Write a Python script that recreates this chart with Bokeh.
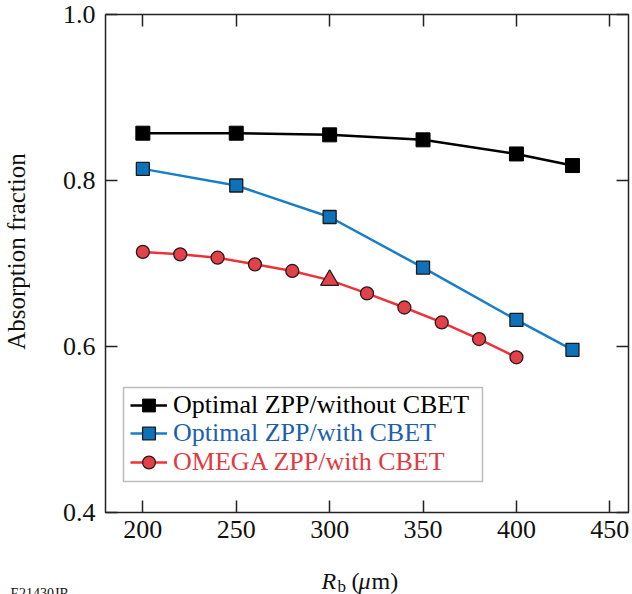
from bokeh.plotting import figure
from bokeh.layouts import row, column
from bokeh.models import (Range1d, LinearAxis, FixedTicker, Legend, LegendItem,
                          Label, BoxAnnotation, ColumnDataSource, CustomJSTickFormatter)
from bokeh.embed import file_html
from bokeh.resources import INLINE

# ---- data ----
x_opt = [200, 250, 300, 350, 400, 430]
y_no_cbet = [0.857, 0.857, 0.855, 0.849, 0.832, 0.818]
y_with_cbet = [0.814, 0.794, 0.756, 0.695, 0.632, 0.596]
x_omega = [200, 220, 240, 260, 280, 300, 320, 340, 360, 380, 400]
y_omega = [0.714, 0.711, 0.707, 0.699, 0.691, 0.680, 0.664, 0.647, 0.629, 0.609, 0.587]
omega_markers = ["circle"] * 5 + ["triangle"] + ["circle"] * 5
x_ticks = [200, 250, 300, 350, 400, 450]
y_ticks = [0.4, 0.6, 0.8, 1.0]
series_names = ["Optimal ZPP/without CBET", "Optimal ZPP/with CBET", "OMEGA ZPP/with CBET"]
y_title = "Absorption fraction"
figure_id = "E21430JR"

FONT = "Liberation Serif"
BLACK = "#000000"
BLUE_LINE = "#1A7DC8"
BLUE_FILL = "#0E72BA"
BLUE_TEXT = "#1D5FAE"
RED_LINE = "#EC3339"
RED_FILL = "#E2414A"
RED_TEXT = "#E23A43"
TXT = "#111111"

p = figure(frame_width=523, frame_height=498,
           x_range=Range1d(180, 460), y_range=Range1d(0.4, 1.0),
           output_backend="svg", toolbar_location=None,
           min_border_left=75, min_border_right=4,
           min_border_top=14, min_border_bottom=46)
p.xgrid.visible = False
p.ygrid.visible = False
p.outline_line_color = "#222222"
p.outline_line_width = 1.5
p.background_fill_color = "white"
p.border_fill_color = "white"

def style_axis(ax, ticks, show_labels):
    ax.ticker = FixedTicker(ticks=ticks)
    ax.major_tick_in = 12
    ax.major_tick_out = 0
    ax.minor_tick_in = 0
    ax.minor_tick_out = 0
    ax.major_tick_line_color = "#222222"
    ax.major_tick_line_width = 1.5
    ax.axis_line_color = None
    if show_labels:
        ax.major_label_text_font = FONT
        ax.major_label_text_font_size = "26px"
        ax.major_label_text_color = TXT
    else:
        ax.major_label_text_font_size = "0px"
        ax.major_label_standoff = 0

style_axis(p.xaxis[0], x_ticks, True)
style_axis(p.yaxis[0], y_ticks, True)
p.xaxis[0].major_label_standoff = 8
p.yaxis[0].major_label_standoff = 10
p.yaxis[0].formatter = CustomJSTickFormatter(code="return tick.toFixed(1);")

top_ax = LinearAxis()
right_ax = LinearAxis()
style_axis(top_ax, x_ticks, False)
style_axis(right_ax, y_ticks, False)
p.add_layout(top_ax, "above")
p.add_layout(right_ax, "right")

# ---- series ----
l1 = p.line(x_opt, y_no_cbet, line_color=BLACK, line_width=2.5)
s1 = p.scatter(x_opt, y_no_cbet, marker="square", size=14, fill_color=BLACK,
               line_color=BLACK, line_width=1)
l2 = p.line(x_opt, y_with_cbet, line_color=BLUE_LINE, line_width=2.5)
s2 = p.scatter(x_opt, y_with_cbet, marker="square", size=13, fill_color=BLUE_FILL,
               line_color="#1a1a1a", line_width=1.3)
l3 = p.line(x_omega, y_omega, line_color=RED_LINE, line_width=2.5)
src3 = ColumnDataSource(dict(x=x_omega, y=y_omega, m=omega_markers,
                             s=[18 if m == "triangle" else 13 for m in omega_markers]))
s3 = p.scatter("x", "y", marker="m", size="s", source=src3, fill_color=RED_FILL,
               line_color="#2a1a1a", line_width=1.3)

# ---- legend (one per row so each label has its own colour) ----
legend_box = BoxAnnotation(left=18, right=377, bottom=31, top=125,
                           left_units="screen", right_units="screen",
                           bottom_units="screen", top_units="screen",
                           fill_color="white", fill_alpha=1.0,
                           line_color="#222222", line_width=1.5)
p.add_layout(legend_box)

rows = [(series_names[0], [l1, s1], BLACK, 91),
        (series_names[1], [l2, s2], BLUE_TEXT, 63),
        (series_names[2], [l3, s3], RED_TEXT, 34)]
for name, rends, col, yoff in rows:
    lg = Legend(items=[LegendItem(label=name, renderers=rends)],
                location=(25, yoff), orientation="vertical",
                padding=0, margin=0, spacing=0,
                glyph_width=37, glyph_height=32, label_height=32,
                label_standoff=6,
                label_text_font=FONT, label_text_font_size="26px",
                label_text_color=col,
                border_line_alpha=0, background_fill_alpha=0)
    p.add_layout(lg, "center")

# ---- side strips holding the axis titles ----
def strip(w, h):
    f = figure(width=w, height=h, output_backend="svg", toolbar_location=None,
               x_axis_location=None, y_axis_location=None,
               min_border=0, min_border_left=0, min_border_right=0,
               min_border_top=0, min_border_bottom=0)
    f.xgrid.visible = False
    f.ygrid.visible = False
    f.outline_line_color = None
    f.background_fill_color = "white"
    f.border_fill_color = "white"
    return f

left = strip(30, 558)
# the strip's frame is aligned with the main frame (y from its bottom at 512 px)
left.add_layout(Label(x=16, y=261, x_units="screen", y_units="screen",
                      text=y_title, angle=1.5707963, angle_units="rad",
                      text_font=FONT, text_font_size="25px", text_color=TXT,
                      text_align="center", text_baseline="middle"))

bottom = strip(632, 36)
xl = [("R", "italic", "24px", 321, 14),
      ("b", "normal", "17px", 337, 8),
      ("(", "normal", "24px", 351, 14),
      ("\u03bc", "italic", "24px", 358, 14),
      ("m)", "normal", "24px", 371, 14)]
for t, st, fs, xx, yy in xl:
    bottom.add_layout(Label(x=xx, y=yy, x_units="screen", y_units="screen", text=t,
                            text_font=FONT, text_font_style=st, text_font_size=fs,
                            text_color=TXT, text_baseline="alphabetic"))
bottom.add_layout(Label(x=10, y=1, x_units="screen", y_units="screen", text=figure_id,
                        text_font=FONT, text_font_size="14px", text_color=TXT,
                        text_baseline="alphabetic"))

layout = column(row(left, p, spacing=0), bottom, spacing=0)
open("out.html", "w").write(file_html(layout, INLINE))
